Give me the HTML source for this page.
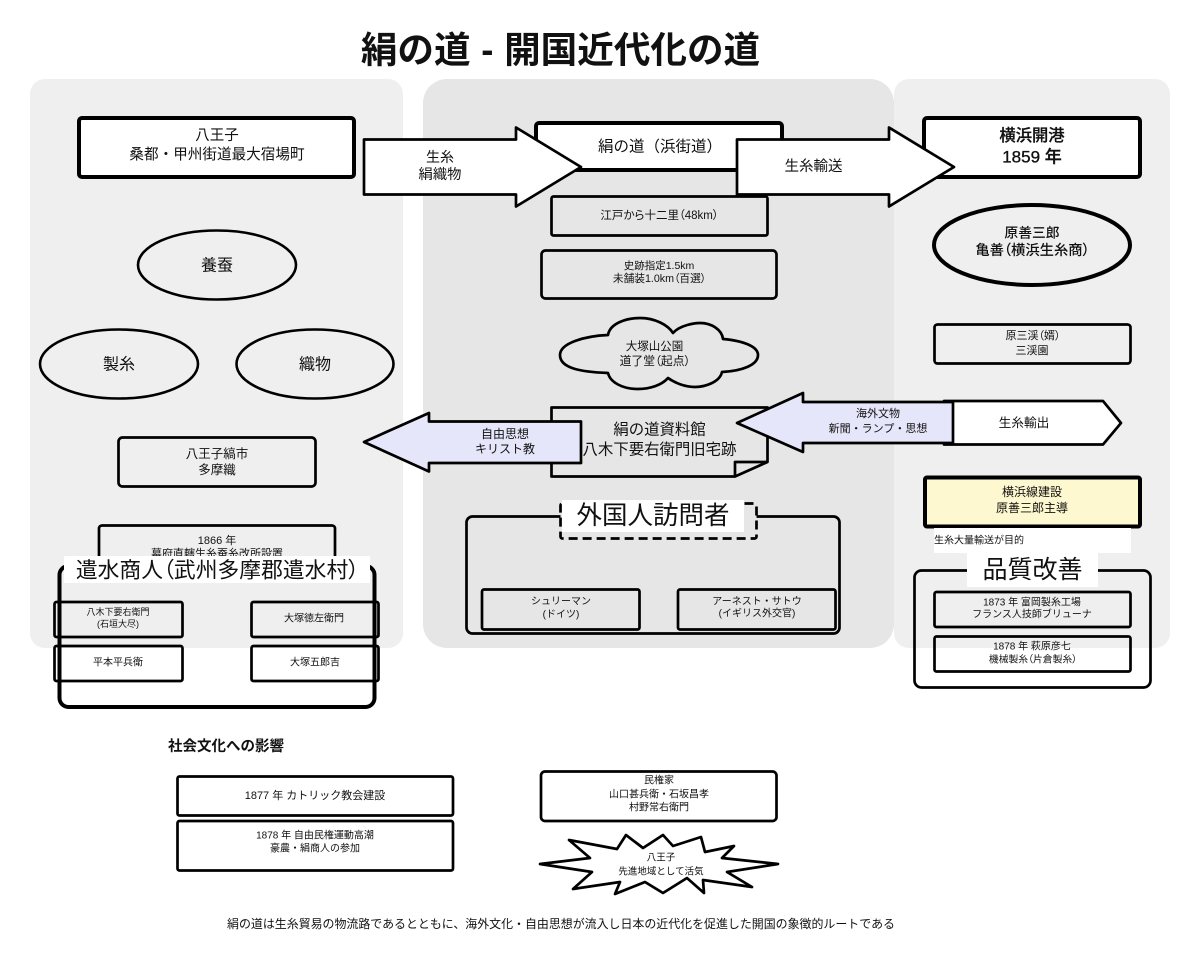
<!DOCTYPE html>
<html lang="ja">
<head>
<meta charset="utf-8">
<title>絹の道 - 開国近代化の道</title>
<style>
html,body{margin:0;padding:0;background:#fff;width:1200px;height:968px;overflow:hidden}
svg{display:block}
text{font-family:"Liberation Sans","Noto Sans CJK JP",sans-serif;fill:#111;text-anchor:middle;dominant-baseline:central;transform:translateY(1px)}
.p{font-feature-settings:"palt"}
.s{fill:none;stroke:#000;stroke-linejoin:round}
.w{fill:#fff;stroke:#000;stroke-linejoin:round}
.v{fill:#e6e6fa;stroke:#000;stroke-width:2.700;stroke-linejoin:round}
</style>
</head>
<body>
<svg width="1200" height="968" viewBox="0 0 1200 968" xmlns="http://www.w3.org/2000/svg">
<rect width="1200" height="968" fill="#fff"/>
<text x="560.500" y="49" font-size="36.600" font-weight="700" fill="#000" word-spacing="0.500">絹の道 - 開国近代化の道</text>

<!-- panels -->
<rect x="30" y="79" width="373" height="569" rx="15" fill="#efefef"/>
<rect x="423" y="79" width="471" height="569" rx="24" fill="#e6e6e6"/>
<rect x="894" y="79" width="276" height="569" rx="15" fill="#efefef"/>

<!-- left panel -->
<rect class="w" x="79" y="118" width="275" height="59" rx="3" stroke-width="4"/>
<text x="217" y="135" font-size="14.500">八王子</text>
<text x="217" y="154" font-size="14.600">桑都・甲州街道最大宿場町</text>
<ellipse class="s" cx="217" cy="265" rx="79" ry="34.500" stroke-width="2.600"/>
<text x="217" y="265" font-size="16">養蚕</text>
<ellipse class="s" cx="119" cy="364" rx="79" ry="34.500" stroke-width="2.600"/>
<text x="119" y="364" font-size="16">製糸</text>
<ellipse class="s" cx="315" cy="364" rx="78.500" ry="34.500" stroke-width="2.600"/>
<text x="315" y="364" font-size="16">織物</text>
<rect class="s" x="118.500" y="437.500" width="197" height="49" rx="4" stroke-width="2.700"/>
<text x="217" y="453" font-size="12.500">八王子縞市</text>
<text x="217" y="469" font-size="12.500">多摩織</text>
<rect class="s" x="99" y="525.500" width="236" height="50" rx="3" stroke-width="2.700"/>
<text x="217" y="540" font-size="11">1866 年</text>
<text x="217" y="553" font-size="11">幕府直轄生糸蚕糸改所設置</text>

<!-- yarimizu group -->
<rect class="s" x="59.500" y="566" width="315" height="141" rx="9" stroke-width="4"/>
<rect x="64" y="556" width="306" height="27" fill="#fff"/>
<text x="217.500" y="569" font-size="21.800" class="p">遣水商人（武州多摩郡遣水村）</text>
<rect class="s" x="54.500" y="602" width="128" height="35" rx="2" stroke-width="2.700"/>
<text x="118" y="611" font-size="9">八木下要右衛門</text>
<text x="118" y="623" font-size="9">(石垣大尽)</text>
<rect class="s" x="251.500" y="602" width="127" height="35" rx="2" stroke-width="2.700"/>
<text x="314" y="618" font-size="10">大塚徳左衛門</text>
<rect class="s" x="54.500" y="646" width="128" height="35" rx="2" stroke-width="2.700"/>
<text x="118" y="662" font-size="10">平本平兵衛</text>
<rect class="s" x="251.500" y="646" width="127" height="35" rx="2" stroke-width="2.700"/>
<text x="315" y="662" font-size="10">大塚五郎吉</text>

<!-- center panel -->
<rect class="w" x="536" y="123" width="246" height="47" rx="3" stroke-width="4"/>
<text x="660" y="146" font-size="15.500">絹の道（浜街道）</text>
<rect class="s" x="551.500" y="196.500" width="216" height="39" rx="2" stroke-width="2.700"/>
<text x="659.500" y="215" font-size="11.500" class="p">江戸から十二里（48km）</text>
<rect class="s" x="541.500" y="250.500" width="235" height="48" rx="4" stroke-width="2.700"/>
<text x="659" y="265" font-size="10.500">史跡指定1.5km</text>
<text x="659.500" y="278" font-size="10.700" class="p">未舗装1.0km（百選）</text>

<path class="s" stroke-width="2.700" d="M608,373 C580,372 560,368 560,355 C560,343 585,336 608,335 C610,323 627,318 640,318 C655,318 668,325 673,333 C680,325 695,323 700,323 C712,323 722,330 723,339 C745,341 758,347 758,355 C758,365 742,371 722,372 C720,382 705,387 695,387 C685,387 675,383 668,378 C662,385 650,389 638,389 C622,389 610,382 608,373 Z"/>
<text x="654.500" y="346" font-size="11.500">大塚山公園</text>
<text x="655" y="360" font-size="11.800" class="p">道了堂（起点）</text>

<path class="s" stroke-width="2.700" d="M551.500,407.500 H767.500 V462 L735,476.500 H551.500 Z M735,476.500 V462 H767.500"/>
<text x="659.500" y="429" font-size="15.400">絹の道資料館</text>
<text x="659.500" y="449" font-size="15.400">八木下要右衛門旧宅跡</text>

<!-- foreign visitors group -->
<rect class="s" x="466.500" y="516.500" width="373" height="117" rx="6" stroke-width="2.700"/>
<rect x="560.500" y="503.500" width="196" height="35" rx="2" fill="#e6e6e6" stroke="#000" stroke-width="2.700" stroke-dasharray="9 5"/>
<rect x="562" y="500" width="182" height="32" fill="#fff"/>
<text x="653" y="515" font-size="25.500">外国人訪問者</text>
<rect class="s" x="482" y="589.500" width="157.500" height="40" rx="2" stroke-width="2.700"/>
<text x="561" y="601" font-size="10">シュリーマン</text>
<text x="561" y="614" font-size="10">(ドイツ)</text>
<rect class="s" x="678" y="589.500" width="157.500" height="40" rx="2" stroke-width="2.700"/>
<text x="757" y="601" font-size="10">アーネスト・サトウ</text>
<text x="757" y="613" font-size="10">(イギリス外交官)</text>

<!-- right panel -->
<rect class="w" x="924" y="118" width="216" height="59" rx="3" stroke-width="4"/>
<text x="1032" y="135" font-size="16.300" font-weight="500" stroke="#111" stroke-width=".25">横浜開港</text>
<text x="1032" y="156" font-size="17" font-weight="500" stroke="#111" stroke-width=".35">1859 年</text>
<ellipse class="s" cx="1032" cy="245" rx="98" ry="40" stroke-width="4"/>
<text x="1032" y="232" font-size="13.800" font-weight="500">原善三郎</text>
<text x="1032.500" y="250" font-size="14.300" font-weight="500" class="p">亀善（横浜生糸商）</text>
<rect class="s" x="934.500" y="324.500" width="196" height="39" rx="3" stroke-width="2.700"/>
<text x="1033" y="335" font-size="11" class="p">原三渓（婿）</text>
<text x="1032" y="350" font-size="11">三渓園</text>

<path class="w" stroke-width="2.700" d="M944,401 H1103 L1121,423 L1103,444.500 H944 Z"/>
<text x="1024" y="422" font-size="12.700">生糸輸出</text>

<rect x="925" y="477.500" width="215" height="49" rx="2" fill="#fdf8cf" stroke="#000" stroke-width="4" stroke-linejoin="round"/>
<text x="1032" y="491" font-size="12">横浜線建設</text>
<text x="1032" y="507" font-size="12">原善三郎主導</text>
<rect x="934" y="528" width="197" height="25" fill="#fff"/>
<text x="934" y="540" font-size="10" style="text-anchor:start">生糸大量輸送が目的</text>

<rect class="s" x="914.500" y="570.500" width="236" height="117" rx="7" stroke-width="2.700"/>
<rect x="967" y="553" width="131" height="34" fill="#fff"/>
<text x="1032.500" y="569" font-size="25">品質改善</text>
<rect class="s" x="934.500" y="592" width="196" height="35" rx="2" stroke-width="2.700"/>
<text x="1032" y="602" font-size="10">1873 年 富岡製糸工場</text>
<text x="1032" y="614" font-size="10">フランス人技師ブリューナ</text>
<rect class="s" x="934.500" y="636.500" width="196" height="35" rx="2" stroke-width="2.700"/>
<text x="1032" y="646" font-size="10">1878 年 萩原彦七</text>
<text x="1033" y="659" font-size="9.800" class="p">機械製糸（片倉製糸）</text>

<!-- arrows -->
<path class="w" stroke-width="2.700" d="M364,139.500 H516 V127.500 L581,167 L516,206.500 V194.500 H364 Z"/>
<text x="440" y="156" font-size="14">生糸</text>
<text x="440" y="174" font-size="14.300">絹織物</text>
<path class="w" stroke-width="2.700" d="M737,139.500 H889 V127.500 L954,167 L889,206.500 V194.500 H737 Z"/>
<text x="813.500" y="166" font-size="14.500">生糸輸送</text>
<path class="v" d="M581,421.500 H429 V413 L364,442 L429,471.500 V463 H581 Z"/>
<text x="505" y="433" font-size="12">自由思想</text>
<text x="505" y="448" font-size="12">キリスト教</text>
<path class="v" d="M953,402 H803 V393 L737,423 L803,452 V443 H953 Z"/>
<text x="878" y="413" font-size="11">海外文物</text>
<text x="878" y="428" font-size="11">新聞・ランプ・思想</text>

<!-- bottom -->
<text x="168" y="746" font-size="14.500" font-weight="700" style="text-anchor:start">社会文化への影響</text>
<rect class="s" x="177.500" y="776.500" width="275.500" height="39" rx="2" stroke-width="2.700"/>
<text x="315" y="795" font-size="11">1877 年 カトリック教会建設</text>
<rect class="s" x="177.500" y="821" width="275.500" height="49.500" rx="2" stroke-width="2.700"/>
<text x="315" y="835" font-size="10">1878 年 自由民権運動高潮</text>
<text x="315" y="848" font-size="10">豪農・絹商人の参加</text>
<rect class="s" x="541" y="771.500" width="235.500" height="49.500" rx="4" stroke-width="2.700"/>
<text x="659" y="780" font-size="10">民権家</text>
<text x="659" y="794" font-size="10">山口甚兵衛・石坂昌孝</text>
<text x="659" y="807" font-size="10">村野常右衛門</text>
<path class="s" stroke-width="2.700" d="M540,864 L590,858 L569,840 L617,849 L626,835 L643,848 L663,835 L673,846 L701,837 L705,852 L734,846 L722,858 L778,864 L727,872 L752,887 L703,880 L704,893 L687,878 L663,893 L645,882 L615,894 L620,882 L573,889 L592,872 Z"/>
<text x="661" y="857" font-size="9.500">八王子</text>
<text x="661" y="871" font-size="9.500">先進地域として活気</text>
<text x="561" y="923" font-size="11.950">絹の道は生糸貿易の物流路であるとともに、海外文化・自由思想が流入し日本の近代化を促進した開国の象徴的ルートである</text>
</svg>
</body>
</html>
